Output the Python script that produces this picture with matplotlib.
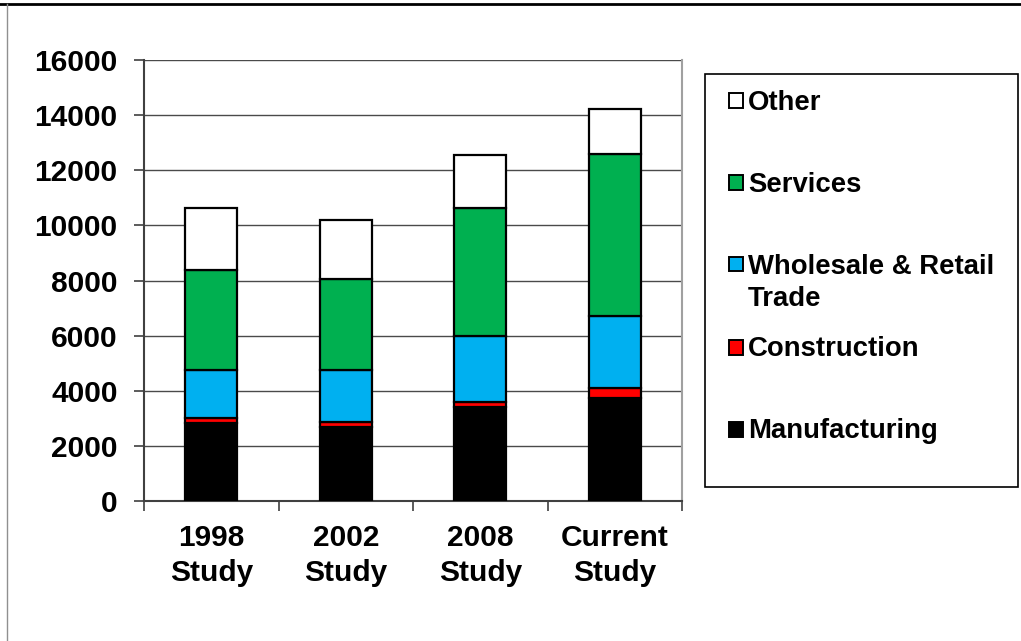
import matplotlib
matplotlib.use("Agg")
import matplotlib.pyplot as plt
from matplotlib.patches import Rectangle
from matplotlib.lines import Line2D
import numpy as np

categories = ["1998\nStudy", "2002\nStudy", "2008\nStudy", "Current\nStudy"]
manufacturing = [2830, 2685, 3410, 3740]
construction = [180, 180, 180, 350]
wholesale_retail = [1740, 1890, 2420, 2640]
services = [3630, 3300, 4620, 5860]
other = [2250, 2150, 1930, 1620]

series_names = ["Manufacturing", "Construction", "Wholesale & Retail\nTrade", "Services", "Other"]
series_values = [manufacturing, construction, wholesale_retail, services, other]
series_colors = ["#000000", "#FF0000", "#00B0F0", "#00B050", "#FFFFFF"]

plt.rcParams['font.family'] = ['Liberation Sans', 'DejaVu Sans']
plt.rcParams['font.weight'] = 'bold'

W, H = 1021, 641
fig = plt.figure(figsize=(W / 100, H / 100), dpi=100)
ax = fig.add_axes([144 / W, 1 - 501.3 / H, 538 / W, 441.3 / H])

x = np.arange(len(categories))
bottom = np.zeros(len(categories))
for name, vals, col in zip(series_names, series_values, series_colors):
    ax.bar(x, vals, width=0.39, bottom=bottom, color=col, edgecolor="black",
           linewidth=1.6, zorder=3, label=name)
    bottom += np.array(vals)

ax.set_xlim(-0.5, 3.5)
ax.set_ylim(0, 16000)
ax.set_yticks(np.arange(0, 16001, 2000))
ax.yaxis.grid(True, color="#4a4a4a", linewidth=1.0, zorder=0)
ax.set_axisbelow(True)

ax.set_xticks(x)
ax.set_xticklabels(categories, fontsize=21.5, fontweight="bold", linespacing=1.32)
ax.set_xticks(np.arange(-0.5, 3.6, 1.0), minor=True)
ax.tick_params(axis="x", which="major", length=0, pad=16)
ax.tick_params(axis="x", which="minor", length=7, width=1.2, color="#404040", direction="out")
ax.tick_params(axis="y", length=7, width=1.2, color="#404040", direction="out", pad=12,
               labelsize=21.5)
for lab in ax.get_yticklabels():
    lab.set_fontweight("bold")

ax.spines["top"].set_visible(False)
ax.spines["right"].set_color("#a0a0a0")
ax.spines["right"].set_linewidth(1.5)
ax.spines["left"].set_color("#404040")
ax.spines["left"].set_linewidth(1.5)
ax.spines["bottom"].set_color("#404040")
ax.spines["bottom"].set_linewidth(1.5)

# legend box (drawn in figure pixels, top-down)
fig.patches.append(Rectangle((705 / W, 1 - 487 / H), 313 / W, 413 / H,
                             transform=fig.transFigure, fill=False,
                             edgecolor="black", linewidth=1.2))
legend_rows_y = [100, 182, 264, 347, 429]   # centre of first text line, pixels from top
for name, col, yc in zip(series_names[::-1], series_colors[::-1], legend_rows_y):
    fig.patches.append(Rectangle((728.5 / W, 1 - (yc + 7.5) / H), 14.5 / W, 14.5 / H,
                                 transform=fig.transFigure, facecolor=col,
                                 edgecolor="black", linewidth=1.4))
    fig.text(748 / W, 1 - (yc - 10.5) / H, name, fontsize=19.8, fontweight="bold",
             ha="left", va="top", linespacing=1.3)

# page frame lines
fig.add_artist(Line2D([0, 1], [1 - 3.5 / H, 1 - 3.5 / H], transform=fig.transFigure,
                      color="black", linewidth=2))
fig.add_artist(Line2D([7.3 / W, 7.3 / W], [0, 1 - 3.5 / H], transform=fig.transFigure,
                      color="#909090", linewidth=1))

fig.savefig("out.png", dpi=100, facecolor="white")
